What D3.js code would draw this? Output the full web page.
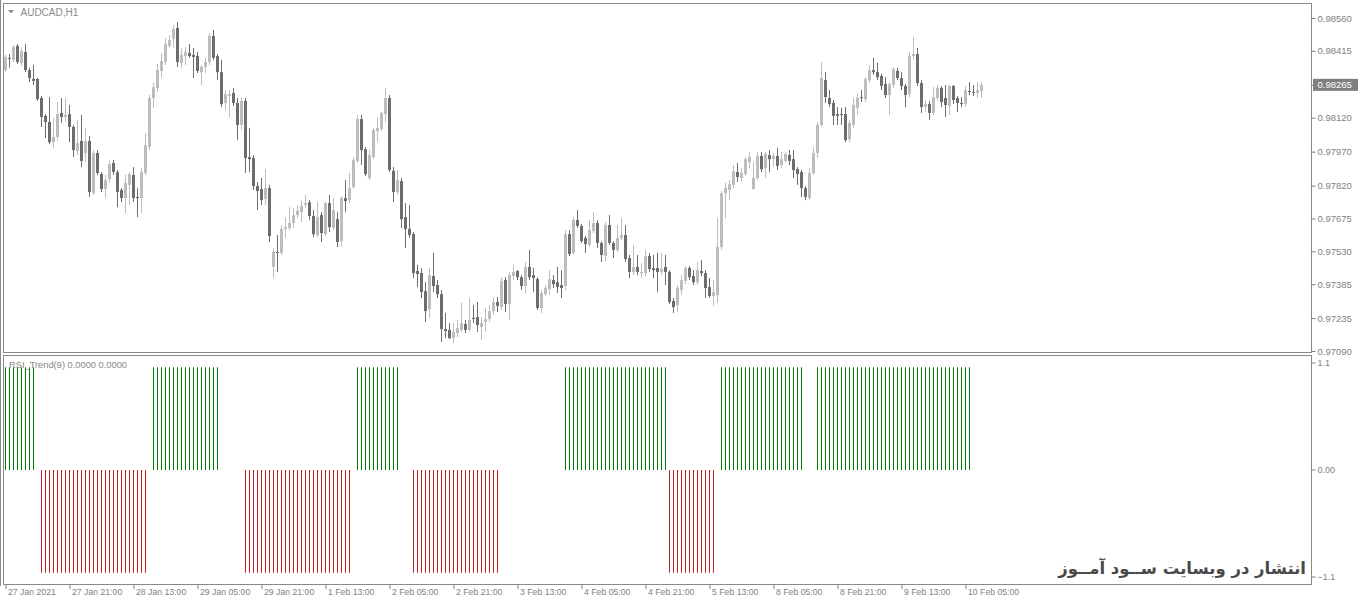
<!DOCTYPE html>
<html>
<head>
<meta charset="utf-8">
<script src="https://cdn.jsdelivr.net/npm/d3@7"></script>
<style>
  html, body { margin:0; padding:0; background:#fff; }
  text { font-family: "Liberation Sans", Arial, sans-serif; }
</style>
</head>
<body>
<div id="chart"></div>
<script>
// AUDCAD H1, prices in points (1e-5)
const opens = [98330,98384,98375,98437,98362,98410,98330,98291,98291,98207,
  98128,98101,98012,98035,98141,98123,98136,98079,97973,98017,
  97964,98017,97787,97964,97871,97805,97849,97920,97880,97801,
  97765,97823,97867,97770,97765,97876,97990,98207,98251,98326,
  98366,98437,98467,98516,98362,98392,98406,98397,98392,98321,
  98344,98366,98481,98392,98321,98185,98216,98229,98185,98088,
  98194,97946,97942,97818,97805,97761,97809,97461,97527,97523,
  97629,97633,97655,97690,97703,97734,97747,97686,97602,97690,
  97606,97743,97633,97672,97575,97765,97756,97814,97929,98114,
  97981,97854,97946,98061,98070,98136,98207,97885,97792,97840,
  97681,97629,97606,97443,97434,97354,97275,97421,97381,97341,
  97187,97183,97147,97169,97183,97209,97183,97236,97240,97196,
  97218,97231,97266,97306,97284,97403,97297,97421,97443,97416,
  97377,97461,97425,97407,97280,97341,97363,97403,97394,97381,
  97377,97606,97523,97668,97642,97589,97558,97620,97655,97567,
  97509,97646,97567,97536,97589,97602,97500,97439,97461,97434,
  97434,97509,97456,97456,97439,97461,97439,97311,97293,97359,
  97399,97456,97421,97394,97443,97434,97372,97333,97337,97549,
  97787,97801,97823,97880,97854,97871,97924,97805,97854,97951,
  97898,97955,97937,97951,97911,97929,97955,97937,97893,97880,
  97809,97765,97876,97964,98088,98286,98207,98185,98136,98136,
  98136,98026,98088,98163,98211,98202,98286,98330,98321,98304,
  98269,98220,98264,98326,98295,98260,98224,98392,98401,98273,
  98167,98180,98141,98207,98251,98207,98171,98260,98207,98185,
  98180,98238,98233,98229,98238];
const highs = [98397,98401,98441,98445,98428,98445,98340,98353,98295,98216,
  98136,98211,98119,98189,98207,98207,98176,98088,98110,98132,
  98075,98039,97977,97977,97880,97867,97929,97933,97889,97809,
  97867,97880,97902,97809,97898,98053,98220,98277,98357,98406,
  98472,98485,98529,98542,98428,98432,98445,98428,98410,98353,
  98384,98494,98507,98401,98375,98242,98242,98251,98207,98211,
  98207,98075,97955,97836,97854,97893,97823,97545,97602,97646,
  97681,97725,97721,97734,97756,97779,97756,97712,97747,97703,
  97747,97779,97765,97703,97774,97845,97876,97946,98132,98132,
  97990,97977,98075,98119,98145,98251,98220,97902,97889,97854,
  97743,97734,97615,97471,97456,97394,97456,97523,97403,97359,
  97258,97213,97213,97227,97302,97227,97324,97293,97306,97240,
  97280,97293,97328,97328,97416,97416,97439,97471,97447,97425,
  97483,97536,97456,97416,97359,97381,97447,97425,97461,97447,
  97624,97624,97681,97712,97651,97598,97668,97703,97668,97575,
  97659,97690,97575,97646,97677,97646,97514,97558,97514,97478,
  97536,97523,97514,97523,97523,97514,97447,97324,97381,97425,
  97465,97465,97447,97483,97492,97447,97412,97403,97677,97796,
  97832,97845,97911,97920,97898,97946,97968,97924,97968,97968,
  97968,97977,97964,97986,97968,97968,97977,97977,97902,97889,
  97818,97898,97990,98101,98366,98321,98242,98198,98167,98163,
  98167,98110,98207,98229,98242,98299,98353,98384,98362,98313,
  98299,98277,98344,98340,98321,98269,98410,98476,98428,98286,
  98198,98194,98255,98264,98260,98264,98264,98264,98216,98211,
  98260,98277,98264,98277,98277];
const lows = [98321,98340,98366,98357,98348,98321,98277,98264,98194,98079,
  98030,98003,97986,98017,98097,98101,98012,97946,97955,97902,
  97924,97770,97779,97867,97792,97765,97832,97867,97725,97747,
  97699,97734,97747,97681,97699,97867,97977,98163,98233,98295,
  98353,98428,98428,98344,98340,98353,98384,98295,98317,98264,
  98317,98353,98375,98286,98167,98154,98123,98171,98021,98066,
  97876,97880,97801,97712,97734,97734,97571,97412,97439,97514,
  97589,97624,97633,97677,97659,97721,97668,97593,97593,97571,
  97598,97615,97624,97549,97549,97703,97743,97805,97920,97911,
  97862,97845,97937,98012,98061,98101,97880,97747,97779,97633,
  97545,97589,97412,97372,97324,97218,97236,97350,97324,97130,
  97147,97143,97125,97152,97174,97169,97174,97213,97174,97138,
  97174,97218,97249,97262,97271,97262,97227,97403,97403,97359,
  97346,97403,97350,97271,97258,97333,97337,97368,97346,97324,
  97359,97509,97514,97633,97567,97523,97549,97611,97545,97483,
  97483,97558,97501,97527,97580,97483,97412,97425,97425,97412,
  97421,97439,97412,97350,97425,97381,97297,97258,97262,97337,
  97385,97403,97381,97381,97421,97324,97324,97289,97302,97536,
  97677,97756,97809,97836,97836,97862,97898,97801,97845,97880,
  97854,97880,97902,97889,97898,97924,97911,97854,97823,97770,
  97756,97756,97867,97942,98079,98185,98167,98088,98088,98088,
  98012,98012,98075,98132,98189,98189,98273,98309,98286,98242,
  98207,98132,98251,98286,98242,98167,98211,98375,98260,98141,
  98145,98110,98132,98194,98167,98123,98132,98180,98145,98167,
  98167,98220,98216,98207,98207];
const closes = [98388,98380,98432,98366,98415,98330,98295,98282,98202,98123,
  98101,98012,98035,98136,98123,98132,98079,97977,98008,97929,
  98017,97792,97964,97876,97805,97845,97915,97880,97792,97765,
  97832,97871,97765,97765,97880,97999,98207,98255,98330,98370,
  98445,98463,98511,98366,98397,98410,98392,98388,98326,98344,
  98366,98481,98384,98321,98180,98224,98224,98185,98088,98194,
  97942,97937,97818,97796,97756,97809,97598,97527,97523,97629,
  97637,97655,97690,97708,97730,97743,97686,97606,97681,97611,
  97743,97637,97712,97571,97765,97752,97809,97933,98114,97977,
  97871,97955,98066,98075,98141,98207,97889,97792,97845,97672,
  97629,97602,97434,97430,97350,97266,97425,97377,97341,97187,
  97178,97147,97174,97191,97213,97183,97227,97231,97205,97213,
  97231,97266,97306,97289,97399,97297,97425,97439,97416,97377,
  97461,97416,97412,97280,97346,97368,97407,97385,97372,97368,
  97606,97518,97668,97642,97575,97562,97624,97655,97567,97514,
  97646,97567,97536,97589,97602,97496,97439,97461,97439,97439,
  97509,97452,97447,97439,97452,97439,97306,97284,97368,97403,
  97456,97416,97394,97447,97434,97368,97333,97350,97549,97787,
  97809,97827,97884,97858,97876,97937,97946,97854,97951,97893,
  97960,97937,97951,97907,97937,97960,97929,97889,97871,97809,
  97770,97876,97964,98088,98295,98211,98180,98128,98128,98132,
  98021,98097,98176,98207,98207,98291,98330,98321,98299,98260,
  98220,98269,98335,98295,98260,98220,98392,98401,98273,98167,
  98180,98141,98211,98251,98189,98176,98260,98198,98185,98180,
  98242,98233,98229,98242,98265];
// RSI_Trend(9): 1 up, -1 down, 0 none
const rsiTrend = [1,1,1,1,1,1,1,1,0,-1,
  -1,-1,-1,-1,-1,-1,-1,-1,-1,-1,
  -1,-1,-1,-1,-1,-1,-1,-1,-1,-1,
  -1,-1,-1,-1,-1,-1,0,1,1,1,
  1,1,1,1,1,1,1,1,1,1,
  1,1,1,1,0,0,0,0,0,0,
  -1,-1,-1,-1,-1,-1,-1,-1,-1,-1,
  -1,-1,-1,-1,-1,-1,-1,-1,-1,-1,
  -1,-1,-1,-1,-1,-1,-1,0,1,1,
  1,1,1,1,1,1,1,1,1,0,
  0,0,-1,-1,-1,-1,-1,-1,-1,-1,
  -1,-1,-1,-1,-1,-1,-1,-1,-1,-1,
  -1,-1,-1,-1,0,0,0,0,0,0,
  0,0,0,0,0,0,0,0,0,0,
  1,1,1,1,1,1,1,1,1,1,
  1,1,1,1,1,1,1,1,1,1,
  1,1,1,1,1,1,-1,-1,-1,-1,
  -1,-1,-1,-1,-1,-1,-1,-1,0,1,
  1,1,1,1,1,1,1,1,1,1,
  1,1,1,1,1,1,1,1,1,1,
  0,0,0,1,1,1,1,1,1,1,
  1,1,1,1,1,1,1,1,1,1,
  1,1,1,1,1,1,1,1,1,1,
  1,1,1,1,1,1,1,1,1,1,
  1,1,0,0,0];
const priceTicks = [0.98560,0.98415,0.98265,0.98120,0.97970,0.97820,0.97675,0.97530,0.97385,0.97235,0.97090];
const subTicks = [1.1, 0, -1.1];
const timeIdx = [0,16,32,48,64,80,96,112,128,144,160,176,192,208,224,240];
const timeLabels = ["27 Jan 2021","27 Jan 21:00","28 Jan 13:00","29 Jan 05:00","29 Jan 21:00",
  "1 Feb 13:00","2 Feb 05:00","2 Feb 21:00","3 Feb 13:00","4 Feb 05:00","4 Feb 21:00",
  "5 Feb 13:00","8 Feb 05:00","8 Feb 21:00","9 Feb 13:00","10 Feb 05:00"];
const symbol = "AUDCAD,H1";
const subTitle = "RSI_Trend(9) 0.0000 0.0000";
const watermark = "انتشار در وبسایت ســود آمــوز";

const W = 1360, H = 600;
const bull = "#bdbdbd", bear = "#6d6d6d", axisCol = "#7f7f7f", frameCol = "#8a8a8a";
const upCol = "#008000", downCol = "#cc1f1f";
const pt = v => v / 1e5;

const svg = d3.select("#chart").append("svg").attr("width", W).attr("height", H);
svg.append("rect").attr("width", W).attr("height", H).attr("fill", "#fff");

const candles = closes.map((c, i) => ({i, o: pt(opens[i]), h: pt(highs[i]), l: pt(lows[i]), c: pt(c)}));

const x = d3.scaleLinear().domain([0, candles.length - 1]).range([5.5, 5.5 + 4 * (candles.length - 1)]);
const y = d3.scaleLinear().domain([0.97090, 0.98560]).range([351, 18]);
const ySub = d3.scaleLinear().domain([-1.1, 1.1]).range([583, 357]);

// frames
svg.append("line").attr("x1", 0.5).attr("x2", 0.5).attr("y1", 0).attr("y2", 586).attr("stroke", frameCol);
svg.append("rect").attr("x", 3.5).attr("y", 3.5).attr("width", 1308).attr("height", 349)
  .attr("fill", "none").attr("stroke", frameCol);
svg.append("rect").attr("x", 3.5).attr("y", 355.5).attr("width", 1308).attr("height", 229)
  .attr("fill", "none").attr("stroke", frameCol);

// candles
const cg = svg.append("g");
cg.selectAll("line").data(candles).enter().append("line")
  .attr("x1", d => x(d.i)).attr("x2", d => x(d.i))
  .attr("y1", d => y(d.h)).attr("y2", d => y(d.l))
  .attr("stroke", d => d.c >= d.o ? bull : bear).attr("stroke-width", 1);
cg.selectAll("rect").data(candles).enter().append("rect")
  .attr("x", d => x(d.i) - 1.5).attr("width", 3)
  .attr("y", d => y(Math.max(d.o, d.c)))
  .attr("height", d => Math.max(1, Math.abs(y(d.o) - y(d.c))))
  .attr("fill", d => d.c >= d.o ? bull : bear);

// histogram (1px bars drawn as rects)
const hist = rsiTrend.map((v, i) => ({i, v})).filter(d => d.v !== 0);
svg.append("g").selectAll("rect").data(hist).enter().append("rect")
  .attr("x", d => x(d.i) - 0.5).attr("width", 1)
  .attr("y", d => Math.min(ySub(0), ySub(d.v)))
  .attr("height", d => Math.abs(ySub(d.v) - ySub(0)))
  .attr("fill", d => d.v > 0 ? upCol : downCol);

// price axis
const pa = svg.append("g").attr("transform", "translate(1311.5,0)")
  .call(d3.axisRight(y).tickValues(priceTicks).tickSize(4).tickFormat(d3.format(".5f")));
pa.select(".domain").remove();
pa.selectAll("line").attr("stroke", axisCol);
pa.selectAll("text").attr("x", 6).attr("fill", axisCol).attr("font-size", "9.5px").attr("font-family", "Liberation Sans, Arial");

const last = candles[candles.length - 1].c;
svg.append("rect").attr("x", 1313).attr("y", y(last) - 6).attr("width", 45).attr("height", 12).attr("fill", "#7f7f7f");
svg.append("text").attr("x", 1317.5).attr("y", y(last) + 3.5).attr("fill", "#fff").attr("font-size", "9.5px")
  .text(d3.format(".5f")(last));

// indicator axis
const sa = svg.append("g").attr("transform", "translate(1311.5,0)")
  .call(d3.axisRight(ySub).tickValues(subTicks).tickSize(4).tickFormat(d => d === 0 ? "0.00" : d3.format(".1f")(d)));
sa.select(".domain").remove();
sa.selectAll(".tick").attr("transform", d => `translate(0,${ySub(d) + (d > 1 ? 6 : d < -1 ? -6 : 0)})`);
sa.selectAll("line").attr("stroke", axisCol);
sa.selectAll("text").attr("x", 6).attr("fill", axisCol).attr("font-size", "9px").attr("font-family", "Liberation Sans, Arial");

// time axis
const ta = svg.append("g").attr("transform", "translate(0,585)")
  .call(d3.axisBottom(x).tickValues(timeIdx).tickSize(4).tickFormat((d, k) => timeLabels[k]));
ta.select(".domain").remove();
ta.selectAll("line").attr("stroke", axisCol);
ta.selectAll("text").attr("text-anchor", "start").attr("x", 2).attr("y", 4)
  .attr("fill", axisCol).attr("font-size", "8.7px").attr("font-family", "Liberation Sans, Arial");

// labels
svg.append("path").attr("d", "M8,10 L14,10 L11,13.5 Z").attr("fill", "#8c8c8c");
svg.append("text").attr("x", 20.5).attr("y", 15.5).attr("fill", "#8a8a8a").attr("font-size", "10px").text(symbol);
svg.append("text").attr("x", 9).attr("y", 367.5).attr("fill", "#8a8a8a").attr("font-size", "9.3px").text(subTitle);

const wm = svg.append("text").attr("x", 1306).attr("y", 574).attr("text-anchor", "end")
  .attr("fill", "#4a4a4a").attr("font-weight", "bold").attr("font-size", "20px")
  .style("font-family", "'DejaVu Sans', sans-serif").text(watermark);
const wl = wm.node().getComputedTextLength();
if (wl > 0) wm.attr("font-size", (20 * 248 / wl).toFixed(2) + "px");
</script>
</body>
</html>
